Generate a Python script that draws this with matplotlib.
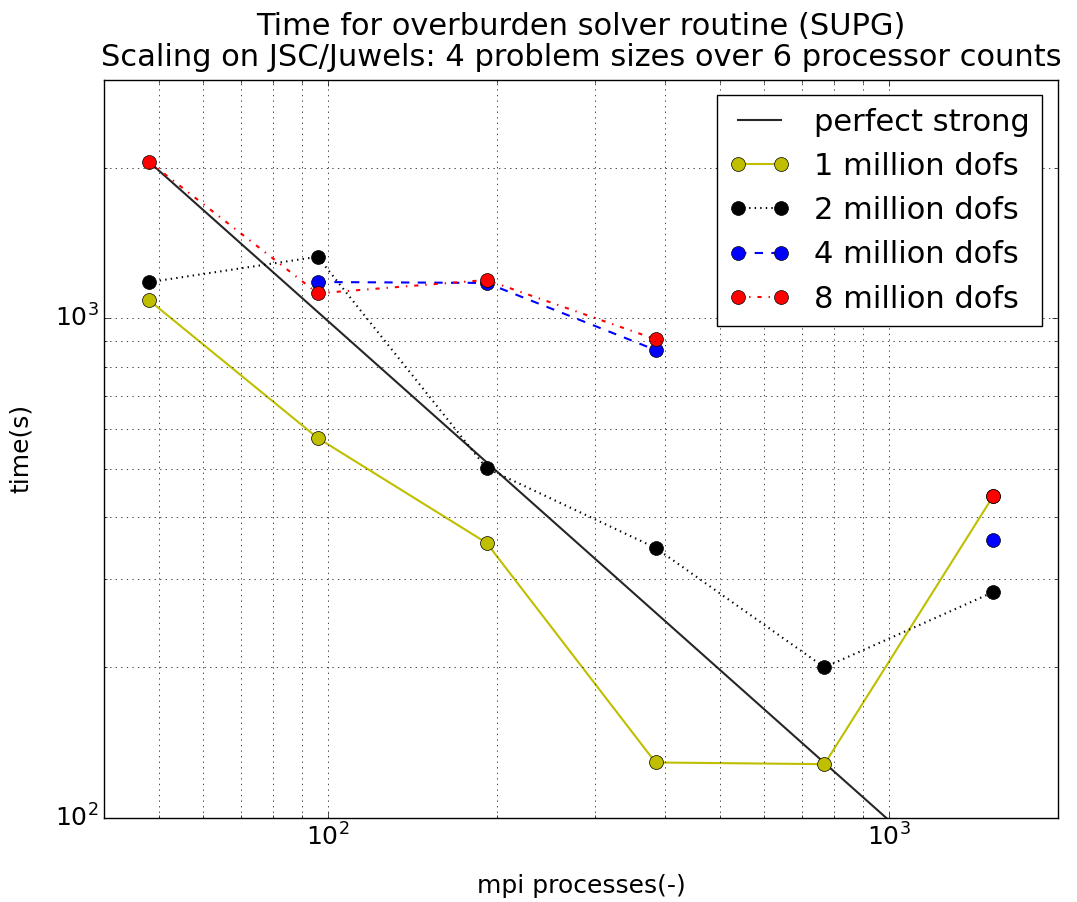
import numpy as np
import matplotlib
matplotlib.use("Agg")
import matplotlib.pyplot as plt

plt.style.use("classic")

procs = [48, 96, 192, 384, 768, 1536]
t_1m = [1088, 576, 355, 129, 128, 441]
t_2m = [1181, 1328, 501, 347, 200, 283]
t_4m = [np.nan, 1182, 1177, 864, np.nan, 360]
t_8m = [2060, 1122, 1193, 908, np.nan, 441]
perfect_base = 2060
perfect = [perfect_base * procs[0] / p for p in procs]

title = "Time for overburden solver routine (SUPG)\nScaling on JSC/Juwels: 4 problem sizes over 6 processor counts"

fig = plt.figure(figsize=(10.77, 9.02), dpi=100, facecolor="white")
ax = fig.add_axes([104.3 / 1077, 1 - 817.7 / 902, (1057.7 - 104.3) / 1077, (817.7 - 80) / 902])

ax.loglog(procs, perfect, "-", color="0.15", lw=1.5, label="perfect strong")
ax.loglog(procs, t_1m, "o-", color="y", lw=1.5, ms=10, label="1 million dofs")
ax.loglog(procs, t_2m, "o:", color="k", lw=1.5, ms=10, label="2 million dofs")
ax.loglog(procs, t_4m, "o--", color="b", lw=1.5, ms=10, label="4 million dofs")
ax.loglog(procs, t_8m, "o-.", color="r", lw=1.5, ms=10, label="8 million dofs")

ax.set_xlim(40, 2000)
ax.set_ylim(100, 3000)
ax.grid(True, which="both", linestyle=":", color="k")
ax.tick_params(labelsize=18)
ax.set_xlabel("mpi processes(-)", fontsize=18, labelpad=17)
ax.set_ylabel("time(s)", fontsize=18, labelpad=16)
ax.set_title(title, fontsize=22, pad=10, linespacing=1.08)
ax.legend(loc="upper right", numpoints=2, fontsize=22, labelspacing=0.5)

fig.savefig("out.png", dpi=100, facecolor="white")
